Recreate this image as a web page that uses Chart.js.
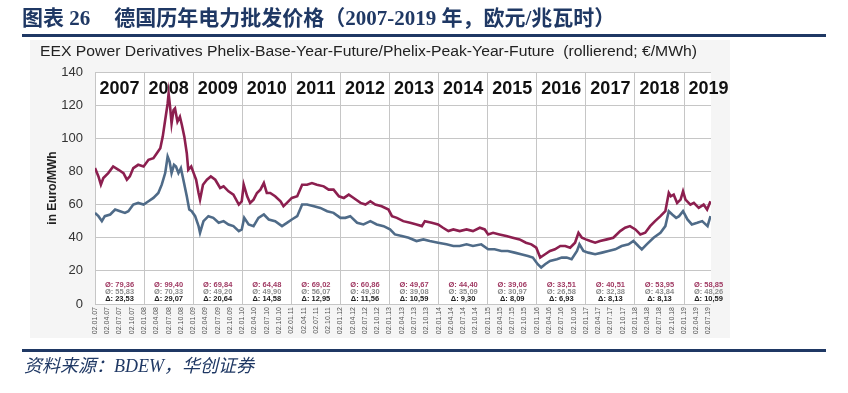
<!DOCTYPE html>
<html><head><meta charset="utf-8">
<script src="https://cdn.jsdelivr.net/npm/chart.js@4/dist/chart.umd.min.js"></script>
<style>
body{margin:0;width:848px;height:393px;position:relative;background:#fff;overflow:hidden;}
#bg{position:absolute;left:30px;top:40px;width:700px;height:298px;background:#f5f5f5;}
#c{position:absolute;left:0;top:0;}
#title{position:absolute;left:22px;top:6px;font:bold 21px "Liberation Serif","Noto Sans CJK SC",serif;color:#1f3864;white-space:nowrap;line-height:24px;}
#title span{margin-left:24px;}
.rule{position:absolute;left:22px;width:804px;height:3px;background:#1f3864;}
#src{position:absolute;left:24px;top:355px;font:italic 18px "Liberation Serif","Noto Sans CJK SC",serif;color:#1f3864;white-space:nowrap;line-height:22px;}
</style></head>
<body>
<div id="bg"></div>
<canvas id="c" width="848" height="393"></canvas>
<div id="title">图表 26<span>德国历年电力批发价格（2007-2019 年，欧元/兆瓦时）</span></div>
<div class="rule" style="top:34px"></div>
<div class="rule" style="top:349px"></div>
<div id="src">资料来源：BDEW，华创证券</div>
<script>
// ---- data ----
const chartHeader = "EEX Power Derivatives Phelix-Base-Year-Future/Phelix-Peak-Year-Future  (rollierend; €/MWh)";
const years = [2007,2008,2009,2010,2011,2012,2013,2014,2015,2016,2017,2018,2019];
const avgPeak = ["79,36","99,40","69,84","64,48","69,02","60,86","49,67","44,40","39,06","33,51","40,51","53,95","58,85"];
const avgBase = ["55,83","70,33","49,20","49,90","56,07","49,30","39,08","35,09","30,97","26,58","32,38","43,84","48,26"];
const spread  = ["23,53","29,07","20,64","14,58","12,95","11,56","10,59","9,30","8,09","6,93","8,13","8,13","10,59"];
const tickLabels = ["02.01.07","02.04.07","02.07.07","02.10.07","02.01.08","02.04.08","02.07.08","02.10.08",
 "02.01.09","02.04.09","02.07.09","02.10.09","02.01.10","02.04.10","02.07.10","02.10.10",
 "02.01.11","02.04.11","02.07.11","02.10.11","02.01.12","02.04.12","02.07.12","02.10.12",
 "02.01.13","02.04.13","02.07.13","02.10.13","02.01.14","02.04.14","02.07.14","02.10.14",
 "02.01.15","02.04.15","02.07.15","02.10.15","02.01.16","02.04.16","02.07.16","02.10.16",
 "02.01.17","02.04.17","02.07.17","02.10.17","02.01.18","02.04.18","02.07.18","02.10.18",
 "02.01.19","02.04.19","02.07.19"];
const yTicks = [0,20,40,60,80,100,120,140];

// Phelix Peak Year Future (time in decimal years)
const peakT = [
 2007.00,2007.07,2007.12,2007.17,2007.27,2007.37,2007.48,2007.58,2007.65,2007.71,2007.78,2007.88,2007.99,
 2008.09,2008.19,2008.26,2008.33,2008.38,2008.43,2008.48,2008.50,2008.53,2008.56,2008.60,2008.63,2008.68,2008.73,2008.77,2008.82,2008.87,2008.90,2008.96,
 2009.01,2009.06,2009.11,2009.14,2009.20,2009.28,2009.36,2009.45,2009.55,2009.62,2009.72,2009.82,2009.93,2009.99,
 2010.03,2010.10,2010.16,2010.23,2010.30,2010.37,2010.44,2010.50,2010.57,2010.67,2010.78,2010.84,2010.91,
 2011.01,2011.12,2011.22,2011.32,2011.42,2011.52,2011.66,2011.76,2011.86,2011.97,
 2012.07,2012.17,2012.27,2012.41,2012.51,2012.61,2012.71,2012.84,2012.98,
 2013.05,2013.15,2013.28,2013.42,2013.55,2013.66,2013.72,2013.86,2013.99,
 2014.09,2014.20,2014.30,2014.43,2014.57,2014.70,2014.84,2014.94,
 2015.01,2015.11,2015.24,2015.38,2015.51,2015.65,2015.78,2015.89,2015.99,
 2016.07,2016.17,2016.27,2016.37,2016.48,2016.58,2016.68,2016.78,2016.85,2016.92,
 2017.00,2017.09,2017.19,2017.29,2017.43,2017.56,2017.70,2017.80,2017.90,
 2018.01,2018.11,2018.21,2018.31,2018.41,2018.52,2018.62,2018.69,2018.73,2018.79,2018.86,2018.93,2018.98,
 2019.03,2019.13,2019.20,2019.30,2019.40,2019.47,2019.54];
const peakV = [
 82,77,72,76,79,83,81,79,75,77,82,84,83,
 87,88,91,94,101,111,121,127,119,109,117,118,110,113,108,101,91,81,83,
 79,75,67,63,72,75,77,75,70,71,68,66,60,62,
 72,65,61,63,67,69,73,67,67,65,62,59,61,
 64,65,72,72,73,72,71,69,69,65,
 64,66,64,61,60,62,60,59,57,
 53,52,50,49,48,47,50,49,48,
 46,44,45,44,45,44,46,45,
 42,43,42,41,40,39,37,36,34,
 28,30,32,33,35,35,34,37,43,40,
 39,38,37,38,39,40,44,46,47,
 45,42,43,47,50,53,56,67,65,66,61,63,68,
 63,60,61,58,60,57,62];

// Phelix Base Year Future
const baseT = [
 2007.00,2007.07,2007.14,2007.20,2007.31,2007.41,2007.51,2007.61,2007.68,2007.78,2007.88,2007.99,
 2008.09,2008.19,2008.29,2008.36,2008.43,2008.48,2008.52,2008.56,2008.61,2008.65,2008.70,2008.75,2008.80,2008.87,2008.92,2008.97,
 2009.04,2009.11,2009.14,2009.21,2009.31,2009.41,2009.52,2009.62,2009.72,2009.82,2009.93,2009.99,
 2010.04,2010.13,2010.23,2010.33,2010.44,2010.54,2010.67,2010.81,2010.91,
 2011.01,2011.12,2011.22,2011.32,2011.46,2011.59,2011.73,2011.86,
 2012.00,2012.10,2012.20,2012.34,2012.47,2012.61,2012.74,2012.88,
 2013.01,2013.11,2013.25,2013.39,2013.55,2013.69,2013.82,2013.99,
 2014.16,2014.30,2014.43,2014.57,2014.70,2014.87,
 2015.01,2015.14,2015.28,2015.41,2015.55,2015.68,2015.82,2015.92,
 2016.02,2016.09,2016.17,2016.27,2016.41,2016.51,2016.61,2016.71,2016.82,2016.87,2016.95,
 2017.05,2017.19,2017.33,2017.46,2017.60,2017.73,2017.87,2017.97,
 2018.07,2018.14,2018.24,2018.38,2018.52,2018.62,2018.69,2018.76,2018.84,2018.90,2018.98,
 2019.07,2019.16,2019.27,2019.37,2019.48,2019.54];
const baseV = [
 55,53,50,53,54,57,56,55,56,60,61,60,
 62,64,67,72,79,89,86,79,84,83,79,82,75,65,57,56,
 53,47,43,50,53,52,49,50,48,47,44,45,
 52,48,47,52,54,51,50,47,49,
 51,53,60,60,59,58,56,55,
 52,52,53,49,48,50,48,47,
 45,42,41,40,38,39,38,37,
 36,35,35,36,35,36,
 33,33,32,32,31,30,29,28,
 24,22,24,26,27,28,28,27,32,36,32,
 31,30,31,32,33,35,36,38,
 35,33,36,40,43,47,56,54,52,53,56,
 51,48,49,50,47,53];

// ---- drawing ----
const PEAK_COLOR = '#8c1f4f';
const BASE_COLOR = '#4f6b88';

const decor = {
  id:'decor',
  beforeDraw(chart){
    const {ctx, chartArea:a} = chart;
    ctx.save();
    ctx.fillStyle = '#ffffff';
    ctx.fillRect(a.left, a.top, a.right-a.left, a.bottom-a.top);
    ctx.restore();
  },
  afterDraw(chart){
    const {ctx, chartArea:a} = chart;
    const xs = chart.scales.x;
    ctx.save();
    ctx.fillStyle = '#222';
    ctx.font = '14px "Liberation Sans", Arial, sans-serif';
    ctx.textAlign = 'left'; ctx.textBaseline = 'middle';
    const w = ctx.measureText(chartHeader).width;
    ctx.save();
    ctx.translate(40, 52);
    ctx.scale(657 / w, 1);
    ctx.fillText(chartHeader, 0, 0);
    ctx.restore();
    ctx.textAlign = 'center';
    years.forEach((yr,i)=>{
      const cx = xs.getPixelForValue(Math.min(yr + 0.5, xs.max - 0.05));
      ctx.fillStyle = '#111';
      ctx.font = 'bold 18px "Liberation Sans", Arial, sans-serif';
      ctx.fillText(String(yr), cx, a.top + 17);
      ctx.font = 'bold 7.5px "Liberation Sans", Arial, sans-serif';
      ctx.fillStyle = '#a03a63';
      ctx.fillText('Ø: ' + avgPeak[i], cx, a.bottom - 19);
      ctx.fillStyle = '#8d8d8d';
      ctx.fillText('Ø: ' + avgBase[i], cx, a.bottom - 12.5);
      ctx.fillStyle = '#222';
      ctx.fillText('Δ: ' + spread[i], cx, a.bottom - 5.5);
    });
    ctx.restore();
  }
};

new Chart(document.getElementById('c'), {
  type:'line',
  data:{datasets:[
    {label:'Phelix-Peak-Year-Future', data: peakT.map((t,i)=>({x:t,y:peakV[i]})),
     borderColor:PEAK_COLOR, borderWidth:2.6, pointRadius:0, tension:0, fill:false},
    {label:'Phelix-Base-Year-Future', data: baseT.map((t,i)=>({x:t,y:baseV[i]})),
     borderColor:BASE_COLOR, borderWidth:2.6, pointRadius:0, tension:0, fill:false}
  ]},
  options:{
    responsive:false, animation:false,
    layout:{padding:{left:30, top:72, right:137, bottom:53}},
    plugins:{legend:{display:false}, tooltip:{enabled:false}},
    scales:{
      x:{type:'linear', min:2007, max:2019.55,
        afterBuildTicks:s=>{ s.ticks = tickLabels.map((l,i)=>({value:2007 + i*0.25})); },
        afterFit:s=>{ s.height = 36; },
        ticks:{autoSkip:false, minRotation:90, maxRotation:90, padding:3,
          font:{size:7, family:'"Liberation Sans", Arial, sans-serif'}, color:'#555',
          callback:(v,i)=>tickLabels[i]},
        grid:{drawTicks:false, lineWidth:1, color:c=> (c.index % 4 === 0) ? '#c6c6c6' : 'rgba(0,0,0,0)'},
        border:{display:false}
      },
      y:{min:0, max:140,
        afterBuildTicks:s=>{ s.ticks = yTicks.map(v=>({value:v})); },
        afterFit:s=>{ s.width = 65; },
        ticks:{padding:12, font:{size:13, family:'"Liberation Sans", Arial, sans-serif'}, color:'#333'},
        grid:{drawTicks:false, color:'#c6c6c6', lineWidth:1},
        border:{display:false},
        title:{display:true, text:'in Euro/MWh', color:'#222',
          font:{size:12, weight:'bold', family:'"Liberation Sans", Arial, sans-serif'},
          padding:{top:15, bottom:0}}
      }
    }
  },
  plugins:[decor]
});
</script>
</body></html>
